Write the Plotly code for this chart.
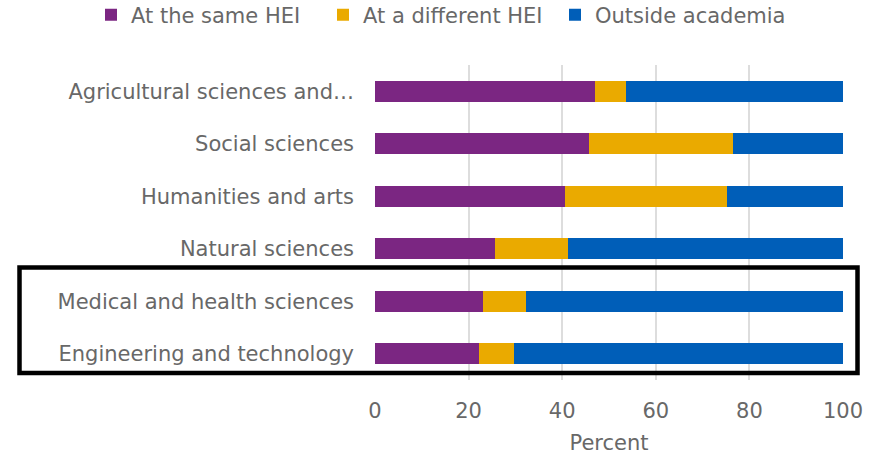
import plotly.graph_objects as go

categories = [
    "Agricultural sciences and…",
    "Social sciences",
    "Humanities and arts",
    "Natural sciences",
    "Medical and health sciences",
    "Engineering and technology",
]
same_hei = [47.0, 45.8, 40.7, 25.6, 23.1, 22.3]
different_hei = [6.7, 30.8, 34.5, 15.6, 9.1, 7.5]
outside_academia = [46.3, 23.4, 24.8, 58.8, 67.8, 70.2]

series = [
    ("At the same HEI", same_hei, "#7B2682"),
    ("At a different HEI", different_hei, "#EAAA00"),
    ("Outside academia", outside_academia, "#005EB8"),
]
x_ticks = [0, 20, 40, 60, 80, 100]

FONT = "DejaVu Sans"
GREY = "#686868"

fig = go.Figure()
for name, vals, color in series:
    fig.add_trace(go.Bar(
        y=categories, x=vals, name=name, orientation="h",
        marker=dict(color=color, line=dict(width=0)), width=0.4,
    ))

W, H = 877, 457
L, R, T, B = 375, 34, 65, 77
pw, ph = W - L - R, H - T - B

def px_x(p):
    return (p - L) / pw

def px_y(p):
    return (H - B - p) / ph

fig.add_shape(type="rect", xref="paper", yref="paper",
              x0=px_x(19.5), x1=px_x(857.5), y0=px_y(373), y1=px_y(267.5),
              line=dict(color="black", width=4.5), fillcolor="rgba(0,0,0,0)")

fig.update_layout(
    width=W, height=H, barmode="stack",
    margin=dict(l=L, r=R, t=T, b=B, autoexpand=False),
    paper_bgcolor="white", plot_bgcolor="white",
    font=dict(family=FONT, size=21, color=GREY),
    legend=dict(orientation="h", x=px_x(91), xanchor="left",
                y=px_y(15), yanchor="middle", font=dict(size=21, color=GREY),
                traceorder="normal", itemwidth=30, entrywidth=187,
                entrywidthmode="pixels", bgcolor="rgba(0,0,0,0)"),
    xaxis=dict(range=[0, 100], tickvals=x_ticks, showgrid=True,
               gridcolor="#DDDDDD", gridwidth=1.5, zeroline=False, showline=False,
               ticklabelstandoff=16,
               title=dict(text="Percent", font=dict(size=21, color=GREY), standoff=13)),
    yaxis=dict(autorange="reversed", showgrid=False, zeroline=False, showline=False,
               ticklabelstandoff=20),
)

fig.write_html("out.html", config={"displayModeBar": False},
               post_script="document.body.style.margin='0';")
